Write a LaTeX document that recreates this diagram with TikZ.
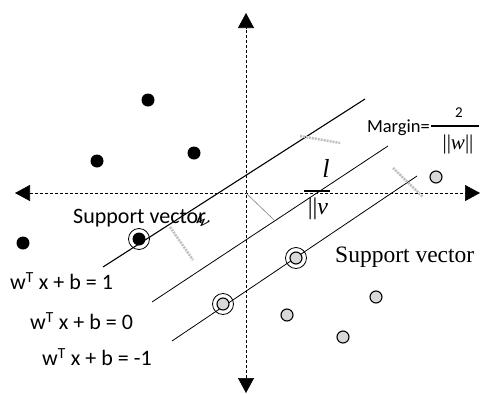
\documentclass[tikz,border=0pt]{standalone}
\usepackage{fontspec}
\setmainfont{Liberation Serif}
\newfontfamily\calfont{Carlito}
\usetikzlibrary{arrows.meta}
\tikzset{
  axis/.style={line width=0.6pt, dash pattern=on 3pt off 2pt,
    {Triangle[length=15pt,width=16pt]}-{Triangle[length=15pt,width=16pt]}},
  hyper/.style={line width=0.8pt},
  bdot/.style={circle, fill=black, minimum size=13pt, inner sep=0pt},
  gdot/.style={circle, draw=black, line width=1.1pt, fill=gray!30, minimum size=12pt, inner sep=0pt},
  ring/.style={circle, draw=black, line width=0.8pt, minimum size=21pt, inner sep=0pt},
  blur/.style={gray!50, line width=2.5pt, dash pattern=on 2pt off 1pt},
  caltext/.style={font=\calfont\fontsize{22}{24}\selectfont, inner sep=0pt},
}
\begin{document}
\begin{tikzpicture}[x=1pt,y=-1pt]
\useasboundingbox (0,0) rectangle (480,394);
% axes
\coordinate (T) at (246,13);
\coordinate (B) at (246,393);
\coordinate (L) at (15,193);
\coordinate (R) at (480,193);
\coordinate (O) at (246,193);
\draw[axis] (B) -- (T);
\draw[axis] (L) -- (R);
% hyperplanes
\coordinate (a1) at (103,267); \coordinate (a2) at (365,99);
\coordinate (b1) at (152,302); \coordinate (b2) at (388,146);
\coordinate (c1) at (172,341); \coordinate (c2) at (417,176);
\draw[hyper, line width=1.1pt] (a1) -- (a2);
\draw[hyper] (b1) -- (b2);
\draw[hyper] (c1) -- (c2);
% perpendicular
\coordinate (P) at (274,220);
\draw[gray, line width=0.6pt] (O) -- (P);
% blurry marks
\coordinate (m1) at (300,136); \coordinate (m2) at (340,143);
\coordinate (m3) at (393,168); \coordinate (m4) at (423,197);
\coordinate (m5) at (170,227); \coordinate (m6) at (193,260);
\draw[blur] (m1) -- (m2);
\draw[blur] (m3) -- (m4);
\draw[blur] (m5) -- (m6);
% black points
\node[bdot] (p1) at (148,100) {};
\node[bdot] (p2) at (97,161) {};
\node[bdot] (p3) at (194,153) {};
\node[bdot] (p4) at (23,243) {};
\node[bdot] (s1) at (139,239) {};
\node[ring] (r1) at (s1) {};
% gray points
\node[gdot] (q1) at (436,177) {};
\node[gdot] (q2) at (376,297) {};
\node[gdot] (q3) at (287,315) {};
\node[gdot] (q4) at (343,337) {};
\node[gdot] (s2) at (296,258) {};
\node[ring] (r2) at (s2) {};
\node[gdot] (s3) at (223,304) {};
\node[ring] (r3) at (s3) {};
% margin text
\node[font=\calfont\fontsize{18.5}{20}\selectfont, inner sep=0pt, anchor=east] (mg) at (430,128) {Margin=};
\coordinate (f1) at (431,126); \coordinate (f2) at (479,126);
\draw[line width=1.2pt] (f1) -- (f2);
\node[font=\calfont\fontsize{15}{16}\selectfont, inner sep=0pt] (two) at (459,113) {2};
\node[font=\fontsize{21}{23}\selectfont, inner sep=0pt] (nw) at (458,144) {||\textit{w}||};
% broken fraction
\node[font=\fontsize{26}{28}\selectfont\itshape, inner sep=0pt] (ll) at (326,168) {l};
\coordinate (g1) at (304,191); \coordinate (g2) at (330,191);
\draw[line width=2pt] (g1) -- (g2);
\node[font=\fontsize{24}{26}\selectfont, inner sep=0pt] (nv) at (318,209) {||\textit{ν}};
% support vector labels
\node[caltext, anchor=west] (sv1) at (73,218) {Support vector};
\node[font=\fontsize{20}{22}\selectfont\itshape, inner sep=0pt, rotate=-35] (wr) at (202,222) {w};
\node[font=\fontsize{23.5}{26}\selectfont, inner sep=0pt, anchor=west] (sv2) at (335,257) {Support vector};
% equations
\node[caltext, anchor=west] (e1) at (10,281) {w\textsuperscript{T} x + b = 1};
\node[caltext, anchor=west] (e2) at (30,321) {w\textsuperscript{T} x + b = 0};
\node[caltext, anchor=west] (e3) at (42,357) {w\textsuperscript{T} x + b = -1};
\end{tikzpicture}
\end{document}
